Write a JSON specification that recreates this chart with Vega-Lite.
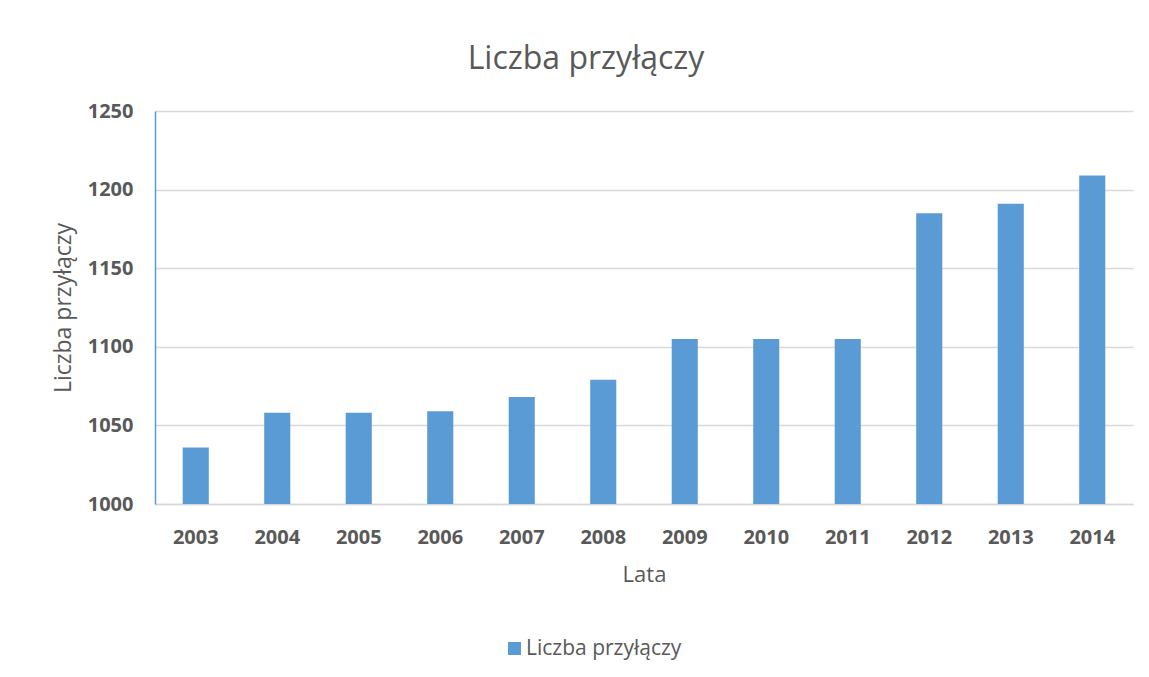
{
  "$schema": "https://vega.github.io/schema/vega-lite/v6.json",
  "width": 978,
  "height": 393,
  "autosize": {"type": "none"},
  "padding": {"left": 155, "top": 111, "right": 16, "bottom": 173},
  "background": "#ffffff",
  "config": {
    "view": {"stroke": null},
    "font": "Open Sans"
  },
  "title": {
    "text": "Liczba przyłączy",
    "font": "Open Sans",
    "fontSize": 32,
    "fontWeight": "normal",
    "color": "#595959",
    "anchor": "middle",
    "frame": "group",
    "baseline": "alphabetic",
    "dx": -58,
    "offset": 0
  },
  "data": {
    "values": [
      {"rok": "2003", "liczba": 1036, "seria": "Liczba przyłączy"},
      {"rok": "2004", "liczba": 1058, "seria": "Liczba przyłączy"},
      {"rok": "2005", "liczba": 1058, "seria": "Liczba przyłączy"},
      {"rok": "2006", "liczba": 1059, "seria": "Liczba przyłączy"},
      {"rok": "2007", "liczba": 1068, "seria": "Liczba przyłączy"},
      {"rok": "2008", "liczba": 1079, "seria": "Liczba przyłączy"},
      {"rok": "2009", "liczba": 1105, "seria": "Liczba przyłączy"},
      {"rok": "2010", "liczba": 1105, "seria": "Liczba przyłączy"},
      {"rok": "2011", "liczba": 1105, "seria": "Liczba przyłączy"},
      {"rok": "2012", "liczba": 1185, "seria": "Liczba przyłączy"},
      {"rok": "2013", "liczba": 1191, "seria": "Liczba przyłączy"},
      {"rok": "2014", "liczba": 1209, "seria": "Liczba przyłączy"}
    ]
  },
  "mark": {"type": "bar", "clip": true},
  "encoding": {
    "x": {
      "field": "rok",
      "type": "ordinal",
      "scale": {"paddingInner": 0.68, "paddingOuter": 0.34},
      "axis": {
        "title": "Lata",
        "titleFont": "Open Sans",
        "titleFontSize": 22,
        "titleFontWeight": "normal",
        "titleColor": "#595959",
        "titlePadding": 17,
        "labelFont": "Open Sans",
        "labelFontSize": 20,
        "labelFontWeight": "bold",
        "labelColor": "#595959",
        "labelAngle": 0,
        "labelPadding": 23,
        "ticks": false,
        "domainColor": "#D9D9D9",
        "domainWidth": 1.5
      }
    },
    "y": {
      "field": "liczba",
      "type": "quantitative",
      "scale": {"domain": [1000, 1250], "nice": false, "zero": false},
      "axis": {
        "title": "Liczba przyłączy",
        "values": [1000, 1050, 1100, 1150, 1200, 1250],
        "format": "d",
        "titleFont": "Open Sans",
        "titleFontSize": 23,
        "titleFontWeight": "normal",
        "titleColor": "#595959",
        "titlePadding": 12,
        "labelFont": "Open Sans",
        "labelFontSize": 20,
        "labelFontWeight": "bold",
        "labelColor": "#595959",
        "labelPadding": 22,
        "ticks": false,
        "domainColor": "#5B9BD5",
        "domainWidth": 1.5,
        "grid": true,
        "gridColor": "#D9D9D9",
        "gridWidth": 1.3
      }
    },
    "color": {
      "field": "seria",
      "type": "nominal",
      "scale": {"range": ["#5B9BD5"]},
      "legend": {
        "title": null,
        "orient": "none",
        "legendX": 349,
        "legendY": 527,
        "symbolType": "square",
        "symbolSize": 169,
        "symbolStrokeWidth": 0,
        "labelFont": "Open Sans",
        "labelFontSize": 21,
        "labelColor": "#595959",
        "labelOffset": 1
      }
    }
  }
}
